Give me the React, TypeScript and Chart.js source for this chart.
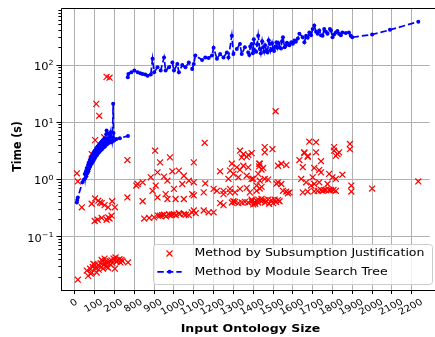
import React, { useEffect, useRef } from 'react';
import { Chart, registerables } from 'chart.js';

Chart.register(...registerables);

// ---------------- data ----------------
const xTickValues = [0, 100, 200, 300, 400, 500, 600, 700, 800, 900, 1000, 1100, 1200, 1300, 1400, 1500, 1600, 1700];
const xTickLabels = ['0', '100', '200', '800', '900', '1000', '1100', '1200', '1300', '1400', '1500', '1600', '1700', '1800', '1900', '2000', '2100', '2200'];
const yMajorTicks = [0.1, 1, 10, 100];
const yTickExponents = ['\u22121', '0', '1', '2'];
const seriesLabels = ['Method by Subsumption Justification', 'Method by Module Search Tree'];

const redX = [
  160, 175, 108, 123, 102, 148, 85, 265, 10, 15, 35,
  102, 118, 85, 135, 168, 188, 202, 265, 310, 127, 150,
  100, 115, 135, 160, 168, 175, 185,
  15, 60, 67, 77, 80, 85, 90, 93, 100, 102, 110, 117, 120, 125, 130, 135, 140, 142, 145, 150, 152, 155, 160, 168, 168, 175, 180, 185, 190, 195, 202, 202, 205, 210, 218, 225, 230, 235, 240, 268,
  655, 405, 480, 430, 600, 733, 417, 450, 492, 525, 550, 383, 317, 342, 408, 392, 467, 500, 542, 575, 600, 658,
  342, 417, 458, 467, 508, 550, 592, 600, 650, 700, 717, 750, 783,
  350, 375, 400, 420, 430, 440, 450, 460, 475, 480, 490, 500, 510, 525, 530, 550, 560, 575, 590, 600, 610, 650, 675, 700,
  833, 850, 875, 892, 842, 867, 792, 817, 850, 875, 833, 783, 800, 775, 825, 867, 892, 925, 933, 750, 783, 808, 833, 867, 883, 917, 933,
  733, 750, 792, 800, 808, 825, 842, 858, 875, 892, 892, 900, 908, 910, 917, 925, 925, 942, 942, 958, 960, 975, 980, 992, 1000, 1008, 1015, 1025, 1033,
  958, 958, 997, 930, 930, 942, 950, 1025, 1042, 1067, 900, 933, 958, 917, 942, 975, 1017, 1025, 1042, 1050, 1067, 1075, 1083, 1013,
  1183, 1217, 1158, 1158, 1175, 1175, 1217, 1133, 1242, 1150, 1208, 1233, 1242, 1142, 1167, 1200, 1208, 1233, 1192, 1150, 1175, 1208, 1225, 1242, 1250, 1258, 1267, 1283, 1292, 1305, 1317, 1283, 1300, 1275, 1317, 1308, 1308, 1325, 1317, 1333, 1350, 1388, 1388, 1395, 1395, 1500, 1733,
];
const redY = [
  62, 60, 21, 13, 4.9, 5.5, 2.8, 2.2, 1.29, 0.93, 0.33,
  0.47, 0.43, 0.38, 0.39, 0.33, 0.42, 0.33, 0.49, 0.79, 0.40, 0.36,
  0.19, 0.2, 0.215, 0.2, 0.22, 0.21, 0.235,
  0.018, 0.026, 0.021, 0.028, 0.023, 0.024, 0.03, 0.034, 0.033, 0.029, 0.024, 0.032, 0.027, 0.031, 0.035, 0.04, 0.038, 0.028, 0.033, 0.042, 0.034, 0.037, 0.03, 0.036, 0.029, 0.038, 0.033, 0.039, 0.035, 0.042, 0.04, 0.028, 0.044, 0.037, 0.039, 0.041, 0.036, 0.04, 0.038, 0.036,
  4.4, 3.2, 2.45, 2.0, 2.0, 1.4, 1.34, 1.13, 1.4, 1.44, 1.17, 1.1, 0.84, 0.9, 0.79, 0.64, 0.96, 0.69, 0.84, 0.96, 0.9, 0.86,
  0.42, 0.49, 0.56, 0.46, 0.46, 0.46, 0.56, 0.53, 0.6, 0.69, 0.64, 0.56, 0.6,
  0.21, 0.215, 0.22, 0.235, 0.235, 0.24, 0.245, 0.23, 0.25, 0.24, 0.245, 0.25, 0.24, 0.26, 0.25, 0.25, 0.245, 0.24, 0.27, 0.29, 0.26, 0.29, 0.27, 0.27,
  3.2, 2.8, 2.7, 2.9, 2.45, 2.5, 1.9, 1.64, 1.75, 1.64, 1.48, 1.44, 1.26, 1.03, 1.1, 1.17, 1.03, 1.26, 1.9, 0.64, 0.69, 0.6, 0.69, 0.72, 0.6, 0.64, 0.7,
  0.39, 0.36, 0.40, 0.42, 0.41, 0.39, 0.40, 0.41, 0.40, 0.42, 0.45, 0.37, 0.41, 0.38, 0.43, 0.40, 0.45, 0.42, 0.46, 0.44, 0.40, 0.45, 0.38, 0.44, 0.39, 0.45, 0.41, 0.44, 0.42,
  3.7, 3.0, 3.4, 1.9, 1.7, 1.5, 1.6, 1.75, 1.9, 1.8, 1.03, 0.96, 1.03, 0.79, 0.75, 1.0, 0.85, 0.9, 0.84, 0.64, 0.62, 0.58, 0.6, 15.6,
  4.6, 4.5, 2.9, 3.0, 2.5, 2.6, 3.0, 2.2, 2.1, 1.65, 1.6, 1.47, 1.34, 1.03, 0.9, 1.1, 0.84, 0.9, 0.79, 0.6, 0.62, 0.63, 0.64, 0.66, 0.64, 0.66, 0.66, 0.66, 0.66, 0.66, 0.64, 1.26, 1.1, 0.84, 1.03, 3.2, 3.7, 2.8, 2.6, 3.0, 1.22, 4.2, 3.4, 0.79, 0.62, 0.7, 0.93,
];

const blueX = [
  10, 12, 15, 38, 45, 50, 52, 56, 58, 60, 63, 66, 68, 70, 72, 75, 77, 80, 82, 85, 87, 90, 92, 95, 97, 100, 102, 105, 107, 110, 112, 115, 117, 120, 122, 125, 127, 130, 132, 135, 137, 140, 142, 145, 147, 150, 152, 155, 158, 160, 162, 165, 167, 170, 172, 175, 177, 180, 182, 185, 188, 190, 193, 195, 198, 202, 210, 227, 268,
  268,
  267, 270, 285, 300, 317, 330, 342, 355, 367, 383, 392, 400, 417, 433, 450, 458, 475, 492, 500, 517, 525, 542, 558, 575, 592, 600, 608, 642, 658, 675, 692, 700, 717, 733, 750, 767, 775, 792, 800, 817, 833, 842, 858, 875,
  880, 885, 892, 898, 903, 908, 915, 920, 925, 933, 938, 945, 950, 955, 960, 967, 972, 978, 983, 988, 995, 1000, 1005, 1012, 1017, 1022, 1028, 1033, 1040, 1045, 1050, 1058, 1063, 1070, 1075, 1082, 1092, 1100, 1108, 1115, 1125,
  1133, 1150, 1158, 1167, 1175, 1183, 1192, 1200, 1208, 1217, 1225, 1233, 1242, 1250, 1258, 1267, 1275, 1287, 1292, 1300, 1308, 1317, 1325, 1333, 1342, 1350, 1367, 1383, 1392, 1400, 1500, 1590, 1733,
];
const blueY: (number | null)[] = [
  0.40, 0.44, 0.49, 0.9, 1.0, 1.25, 1.05, 1.4, 1.15, 1.6, 1.3, 1.8, 1.4, 2.0, 1.55, 2.2, 1.7, 2.4, 1.85, 2.6, 1.95, 2.8, 2.1, 3.0, 2.25, 3.2, 2.4, 3.4, 2.6, 3.6, 2.7, 3.8, 2.9, 4.0, 3.0, 4.2, 3.2, 4.4, 3.3, 4.6, 3.4, 4.8, 3.6, 5.0, 3.7, 5.3, 3.8, 4.4, 6.2, 7.2, 4.1, 5.2, 4.3, 6.4, 4.4, 5.2, 6.0, 6.7, 4.5, 5.4, 4.6, 5.5, 21, 6.5, 4.8, 5.0, 5.1, 5.3, 5.8,
  null,
  61, 70, 75, 80, 75, 72, 70, 68, 65, 68, 128, 75, 91, 80, 135, 80, 91, 111, 80, 104, 75, 100, 91, 111, 85, 104, 146, 122, 135, 133, 146, 200, 128, 155, 135, 166, 135, 325, 155, 190, 232, 155, 205, 166,
  150, 210, 232, 160, 280, 179, 170, 230, 325, 190, 160, 260, 205, 170, 220, 179, 165, 270, 232, 180, 240, 190, 175, 210, 250, 200, 240, 205, 195, 260, 305, 205, 215, 245, 232, 220, 250, 235, 268, 255, 290,
  350, 305, 250, 325, 300, 370, 330, 425, 490, 380, 350, 400, 330, 325, 425, 380, 350, 425, 400, 305, 340, 370, 390, 350, 330, 370, 360, 370, 325, 305, 340, 410, 570,
];

// ---------------- drawing helpers ----------------
const SX = 1.14;
const FAM = '"DejaVu Sans", "Liberation Sans", sans-serif';
const F_LAB = 11;
const F_YT = 10;
const F_XT = 9;

function stretchText(ctx: CanvasRenderingContext2D, text: string, x: number, y: number, font: string,
  align: CanvasTextAlign, baseline: CanvasTextBaseline, rot = 0) {
  ctx.save();
  ctx.translate(x, y);
  ctx.scale(SX, 1);
  if (rot) ctx.rotate(rot);
  ctx.font = font;
  ctx.textAlign = align;
  ctx.textBaseline = baseline;
  ctx.fillStyle = '#000';
  ctx.fillText(text, 0, 0);
  ctx.restore();
}

const overlayPlugin = {
  id: 'mplOverlay',
  afterDraw(chart: any) {
    const { ctx, chartArea: a, scales } = chart;
    const xs = scales.x;
    const ys = scales.y;
    const W = chart.width;
    ctx.save();
    ctx.strokeStyle = '#000';
    ctx.lineWidth = 1;
    ctx.setLineDash([]);
    // spines (right spine lies outside the picture)
    ctx.beginPath();
    ctx.moveTo(a.left + 0.5, a.bottom);
    ctx.lineTo(a.left + 0.5, a.top + 0.5);
    ctx.lineTo(W, a.top + 0.5);
    ctx.moveTo(a.left, a.bottom + 0.5);
    ctx.lineTo(W, a.bottom + 0.5);
    ctx.stroke();

    // x ticks + labels
    ctx.beginPath();
    xTickValues.forEach((v) => {
      const px = Math.floor(xs.getPixelForValue(v)) + 0.5;
      ctx.moveTo(px, a.bottom);
      ctx.lineTo(px, a.bottom + 4);
    });
    ctx.stroke();
    const xf = `${F_XT}px ${FAM}`;
    ctx.font = xf;
    xTickValues.forEach((v, i) => {
      const lbl = xTickLabels[i];
      const px = xs.getPixelForValue(v) - 1;
      const w = ctx.measureText(lbl).width;
      const h = F_XT * 1.16;
      const H = w * 0.5 + h * 0.866;
      const cy = a.bottom + 7 + H / 2;
      stretchText(ctx, lbl, px, cy, xf, 'center', 'middle', -Math.PI / 6);
    });

    // y ticks (major + minor) + labels
    ctx.beginPath();
    yMajorTicks.forEach((v) => {
      const py = Math.floor(ys.getPixelForValue(v)) + 0.5;
      ctx.moveTo(a.left, py);
      ctx.lineTo(a.left - 4.5, py);
    });
    for (let e = -2; e <= 2; e++) {
      for (let m = 2; m <= 9; m++) {
        const v = m * Math.pow(10, e);
        if (v < ys.min || v > ys.max) continue;
        const py = Math.floor(ys.getPixelForValue(v)) + 0.5;
        ctx.moveTo(a.left, py);
        ctx.lineTo(a.left - 2.6, py);
      }
    }
    ctx.stroke();
    const bf = `${F_YT}px ${FAM}`;
    const sf = `${F_YT * 0.7}px ${FAM}`;
    yMajorTicks.forEach((v, i) => {
      const py = ys.getPixelForValue(v);
      const ex = yTickExponents[i];
      ctx.save();
      ctx.translate(53.5, py);
      ctx.scale(SX, 1);
      ctx.fillStyle = '#000';
      ctx.textAlign = 'left';
      ctx.textBaseline = 'alphabetic';
      ctx.font = bf;
      const wb = ctx.measureText('10').width;
      ctx.font = sf;
      const we = ctx.measureText(ex).width;
      ctx.font = bf;
      const base = F_YT * 0.36 + 1.2;
      ctx.fillText('10', -(wb + we), base);
      ctx.font = sf;
      ctx.fillText(ex, -we, base - F_YT * 0.45);
      ctx.restore();
    });

    // axis titles
    stretchText(ctx, 'Input Ontology Size', 250.5, 332, `bold ${F_LAB}px ${FAM}`, 'center', 'alphabetic');
    stretchText(ctx, 'Time (s)', 18, 146.5, `bold ${F_LAB}px ${FAM}`, 'center', 'middle', -Math.PI / 2);

    // legend
    const L = { x: 153.5, y: 244.5, w: 279, h: 40 };
    ctx.beginPath();
    if ((ctx as any).roundRect) (ctx as any).roundRect(L.x, L.y, L.w, L.h, 3);
    else ctx.rect(L.x, L.y, L.w, L.h);
    ctx.fillStyle = 'rgba(255,255,255,0.8)';
    ctx.fill();
    ctx.strokeStyle = '#cccccc';
    ctx.lineWidth = 1;
    ctx.stroke();
    const r1 = 253.5;
    const r2 = 271.8;
    const hx = 169.5;
    // red x marker
    ctx.strokeStyle = '#ff0000';
    ctx.lineWidth = 1.1;
    ctx.beginPath();
    ctx.moveTo(hx - 3, r1 - 3); ctx.lineTo(hx + 3, r1 + 3);
    ctx.moveTo(hx - 3, r1 + 3); ctx.lineTo(hx + 3, r1 - 3);
    ctx.stroke();
    // blue dashed line + dot
    ctx.strokeStyle = '#0000ff';
    ctx.lineWidth = 1.7;
    ctx.setLineDash([6.5, 3]);
    ctx.beginPath();
    ctx.moveTo(157.3, r2); ctx.lineTo(181.7, r2);
    ctx.stroke();
    ctx.setLineDash([]);
    ctx.fillStyle = '#0000ff';
    ctx.beginPath();
    ctx.arc(hx, r2, 2, 0, Math.PI * 2);
    ctx.fill();
    const lf = `${F_LAB}px ${FAM}`;
    stretchText(ctx, seriesLabels[0], 194.5, r1, lf, 'left', 'middle');
    stretchText(ctx, seriesLabels[1], 194.5, r2, lf, 'left', 'middle');
    ctx.restore();
  },
};

export default function App() {
  const ref = useRef<HTMLCanvasElement>(null);
  useEffect(() => {
    if (!ref.current) return;
    const redData = redX.map((x, i) => ({ x, y: redY[i] }));
    const blueData = blueX.map((x, i) => ({ x, y: blueY[i] }));
    const chart = new Chart(ref.current, {
      type: 'scatter',
      data: {
        datasets: [
          {
            label: seriesLabels[0],
            data: redData,
            order: 1,
            showLine: false,
            pointStyle: 'crossRot',
            pointRadius: 4.2,
            pointHoverRadius: 4.2,
            pointBorderColor: '#ff0000',
            pointBackgroundColor: '#ff0000',
            pointBorderWidth: 1.2,
            borderColor: '#ff0000',
          } as any,
          {
            label: seriesLabels[1],
            data: blueData,
            order: 0,
            showLine: true,
            spanGaps: false,
            borderColor: '#0000ff',
            borderWidth: 1.7,
            borderDash: [6.5, 3],
            tension: 0,
            pointStyle: 'circle',
            pointRadius: 2,
            pointHoverRadius: 2,
            pointBackgroundColor: '#0000ff',
            pointBorderColor: '#0000ff',
            pointBorderWidth: 0,
          } as any,
        ],
      },
      options: {
        animation: false,
        responsive: true,
        maintainAspectRatio: false,
        devicePixelRatio: 1,
        events: [],
        layout: { padding: { top: 8, right: 2, left: 0, bottom: 0 } },
        plugins: { legend: { display: false }, tooltip: { enabled: false } },
        scales: {
          x: {
            type: 'linear',
            min: -70,
            max: 1790,
            afterBuildTicks: (s: any) => { s.ticks = xTickValues.map((v) => ({ value: v })); },
            afterFit: (s: any) => { s.height = 47; },
            ticks: { display: false },
            grid: { color: '#b0b0b0', lineWidth: 1, drawTicks: false },
            border: { display: false },
          },
          y: {
            type: 'logarithmic',
            min: 0.0119,
            max: 987,
            afterBuildTicks: (s: any) => { s.ticks = yMajorTicks.map((v) => ({ value: v })); },
            afterFit: (s: any) => { s.width = 61; },
            ticks: { display: false },
            grid: { color: '#b0b0b0', lineWidth: 1, drawTicks: false },
            border: { display: false },
          },
        },
      } as any,
      plugins: [overlayPlugin],
    });
    return () => chart.destroy();
  }, []);
  return (
    <div style={{ position: 'fixed', left: 0, top: 0, width: 435, height: 337, background: '#fff' }}>
      <canvas ref={ref} />
    </div>
  );
}
